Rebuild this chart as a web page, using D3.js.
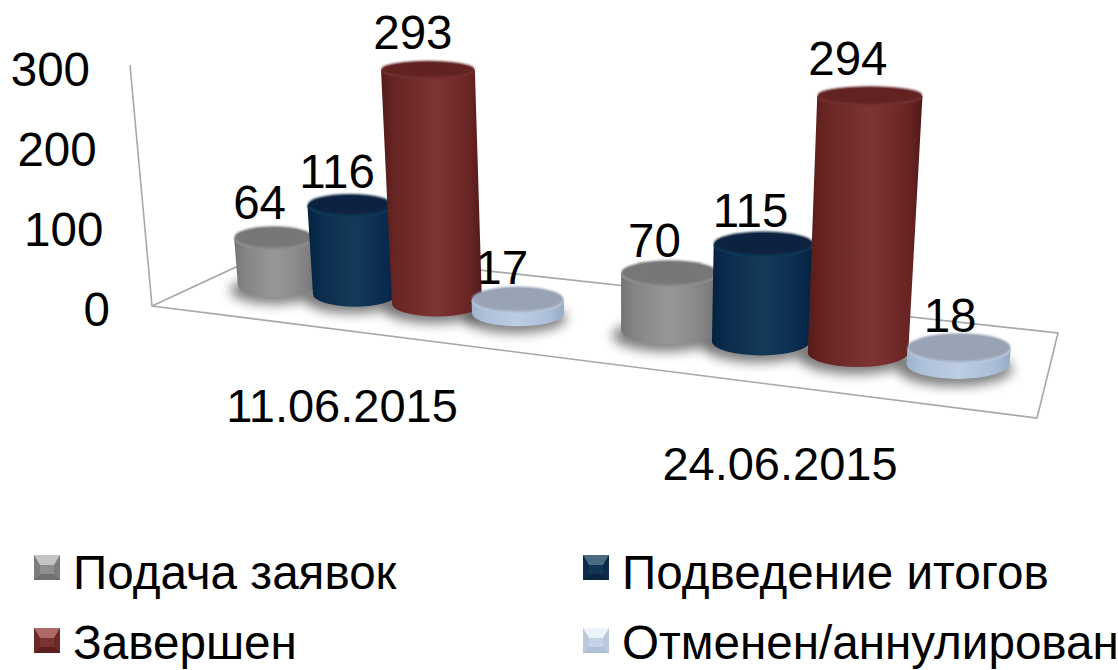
<!DOCTYPE html>
<html><head><meta charset="utf-8">
<script src="https://cdn.jsdelivr.net/npm/d3@7/dist/d3.min.js"></script>
<style>html,body{margin:0;padding:0;background:#fff}svg{display:block}text{font-family:"Liberation Sans",Arial,sans-serif;fill:#000}</style>
</head><body><svg id="c" width="1118" height="670"></svg>
<script>
const categories = ["11.06.2015","24.06.2015"];
const seriesNames = ["Подача заявок","Подведение итогов","Завершен","Отменен/аннулирован"];
const podacha = [64,70];
const podvedenie = [116,115];
const zavershen = [293,294];
const otmenen = [17,18];
const yTicks = [0,100,200,300];
const seriesValues = [podacha,podvedenie,zavershen,otmenen];

const sideStops = [
 [[0,"#737373"],[.12,"#838383"],[.3,"#8e8e8e"],[.5,"#979797"],[.72,"#8d8d8d"],[.9,"#7f7f7f"],[1,"#707070"]],
 [[0,"#04223f"],[.14,"#0a2c4e"],[.35,"#113454"],[.52,"#143a5a"],[.72,"#0e3153"],[.9,"#08294c"],[1,"#041f3c"]],
 [[0,"#541b1a"],[.14,"#682523"],[.35,"#722d2a"],[.55,"#7c3533"],[.75,"#722b2a"],[.9,"#652322"],[1,"#511918"]],
 [[0,"#9fb2cd"],[.15,"#aec1da"],[.5,"#bccde4"],[.85,"#aabdd7"],[1,"#97aac5"]]
];
const topFill = ["#777777","#07233f","#622221","#98a3b6"];
const rimFill = ["#8f8f8f","#123a5a","#743231","#b9c8dd"];
const swatchBase = ["#8f8f8f","#133656","#7a3331","#c5d3e6"];
const swatchLight = ["#c4c4c4","#4d6a84","#b06a66","#eef3fa"];
const swatchDark = ["#6f6f6f","#0a2440","#5d1f1e","#aebfd6"];

const svg = d3.select("#c");
const defs = svg.append("defs");
const blur = defs.append("filter").attr("id","blur").attr("x","-50%").attr("y","-80%").attr("width","200%").attr("height","260%");
blur.append("feGaussianBlur").attr("stdDeviation",6);
const soft = defs.append("filter").attr("id","soft").attr("x","-10%").attr("y","-20%").attr("width","120%").attr("height","140%");
soft.append("feGaussianBlur").attr("stdDeviation",.8);
sideStops.forEach((st,i)=>{
  const g = defs.append("linearGradient").attr("id","side"+i);
  st.forEach(s=>g.append("stop").attr("offset",s[0]).attr("stop-color",s[1]));
});

// projection scales
const slot = d3.scaleLinear().domain([0,1,2,3,4.7,5.7,6.7,7.7]).range([277,355,437,518,669,761,858,958]);
const catOffset = d3.scalePoint().domain(categories).range([0,4.7]);
const serOffset = d3.scalePoint().domain(seriesNames).range([0,3]);
const groundY = d3.scaleLinear().domain([274,958]).range([297,379]);
const widthAt = d3.scaleLinear().domain([274,437,958]).range([78,90,103]);
const ryAt = d3.scaleLinear().domain([274,958]).range([12,15]);
const unitAt = d3.scaleLinear().domain([274,355,437,669,958]).range([.76,.785,.815,.84,.92]);
const leanAt = d3.scaleLinear().domain([153,857]).range([-.096,.046]);
const yBase = d3.scaleLinear().domain([0,300]).range([326,86]);
const yRight = d3.scaleLinear().domain([0,300]).range([110,90]);
// small per-label drift of the 3D renderer's data labels, by slot position
const labelDx = d3.scaleLinear().domain([0,1,2,3,4.7,5.7,6.7,7.7]).range([-14,-13,-15,-16,-15,-13,-22,-9]);
const labelDy = d3.scaleLinear().domain([0,1,2,3,4.7,5.7,6.7,7.7]).range([7,6,12,3,3,5,11,1]);

const bars=[];
categories.forEach((c,ci)=>seriesNames.forEach((s,si)=>{
  const v=seriesValues[si][ci];
  const t=catOffset(c)+serOffset(s);
  const cx=slot(t);
  const rx=widthAt(cx)/2, ry=ryAt(cx), by=groundY(cx)-ry;
  const h=v*unitAt(cx);
  const ryT=ry*(1-h*.0014), rxT=rx*(1+h*.00018);
  const ty=by+ry-ryT-h, tx=cx+leanAt(cx)*(by-ty);
  bars.push({c,ci,s,si,v,t,cx,rx,ry,by,h,ryT,rxT,ty,tx});
}));

// floor & axis line
const frame = svg.append("g").attr("fill","none").attr("stroke","#a8a8a8").attr("stroke-width",1.6);
const corner=[152,306], back=[277,248], backR=[1058,333], frontR=[1037,418], wallTop=[130,65];
frame.append("path").attr("d",d3.line()([wallTop,corner,frontR,backR,back,corner]));

// shadows
svg.append("g").selectAll("ellipse").data(bars).join("ellipse")
  .attr("cx",d=>d.cx-3).attr("cy",d=>d.by+5).attr("rx",d=>d.rx*1.12).attr("ry",d=>d.ry*1.15)
  .attr("fill","#000").attr("opacity",.5).attr("filter","url(#blur)");

// y axis labels
svg.append("g").selectAll("text").data(yTicks).join("text")
  .attr("x",d=>yRight(d)).attr("y",d=>yBase(d)).attr("text-anchor","end").attr("font-size",47.5).text(d=>d);

// value labels (behind the cylinders)
svg.append("g").selectAll("text").data(bars).join("text")
  .attr("x",d=>d.tx+labelDx(d.t)).attr("y",d=>d.ty-d.ryT-labelDy(d.t))
  .attr("text-anchor","middle").attr("font-size",47.5).text(d=>d.v);

// cylinders
const gb = svg.append("g").selectAll("g").data(bars).join("g");
gb.append("path").attr("fill",d=>`url(#side${d.si})`).attr("d",d=>{
  return `M${d.tx-d.rxT},${d.ty}L${d.cx-d.rx},${d.by}`+
    `A${d.rx},${d.ry} 0 0 0 ${d.cx+d.rx},${d.by}`+
    `L${d.tx+d.rxT},${d.ty}A${d.rxT},${d.ryT} 0 0 1 ${d.tx-d.rxT},${d.ty}Z`;
});
gb.append("ellipse").attr("cx",d=>d.tx).attr("cy",d=>d.ty+1.5).attr("rx",d=>d.rxT).attr("ry",d=>d.ryT)
  .attr("fill",d=>rimFill[d.si]);
gb.append("ellipse").attr("cx",d=>d.tx).attr("cy",d=>d.ty-.5).attr("rx",d=>d.rxT-.5).attr("ry",d=>d.ryT-.5)
  .attr("fill",d=>topFill[d.si]).attr("filter","url(#soft)");

// category labels
const catX = d3.scalePoint().domain(categories).range([342,780]);
const catY = d3.scalePoint().domain(categories).range([422,480]);
svg.append("g").selectAll("text").data(categories).join("text")
  .attr("x",d=>catX(d)).attr("y",d=>catY(d)).attr("text-anchor","middle").attr("font-size",47).text(d=>d);

// legend
const legX=d3.scalePoint().domain([0,1]).range([34,583]);
const legY=d3.scalePoint().domain([0,1]).range([555,628]);
const legBase=d3.scalePoint().domain([0,1]).range([589,659]);
const lg = svg.append("g").selectAll("g").data(seriesNames).join("g")
  .attr("transform",(d,i)=>`translate(${legX(i%2)},0)`);
const sw=26, sh=25, b=6;
const sq = lg.append("g").attr("transform",(d,i)=>`translate(0,${legY(i>>1)})`);
sq.append("rect").attr("width",sw).attr("height",sh).attr("fill",(d,i)=>swatchBase[i]);
sq.append("path").attr("d",`M0,0H${sw}L${sw-b},${b+4}H${b}Z`).attr("fill",(d,i)=>swatchLight[i]);
sq.append("path").attr("d",`M0,${sh}H${sw}L${sw-b},${sh-b}H${b}Z`).attr("fill",(d,i)=>swatchDark[i]);
sq.append("path").attr("d",`M0,0L${b},${b+4}V${sh-b}L0,${sh}ZM${sw},0L${sw-b},${b+4}V${sh-b}L${sw},${sh}Z`).attr("fill",(d,i)=>swatchDark[i]).attr("opacity",.55);
lg.append("text").attr("x",39).attr("y",(d,i)=>legBase(i>>1)).attr("font-size",47.6).text(d=>d);
</script></body></html>
